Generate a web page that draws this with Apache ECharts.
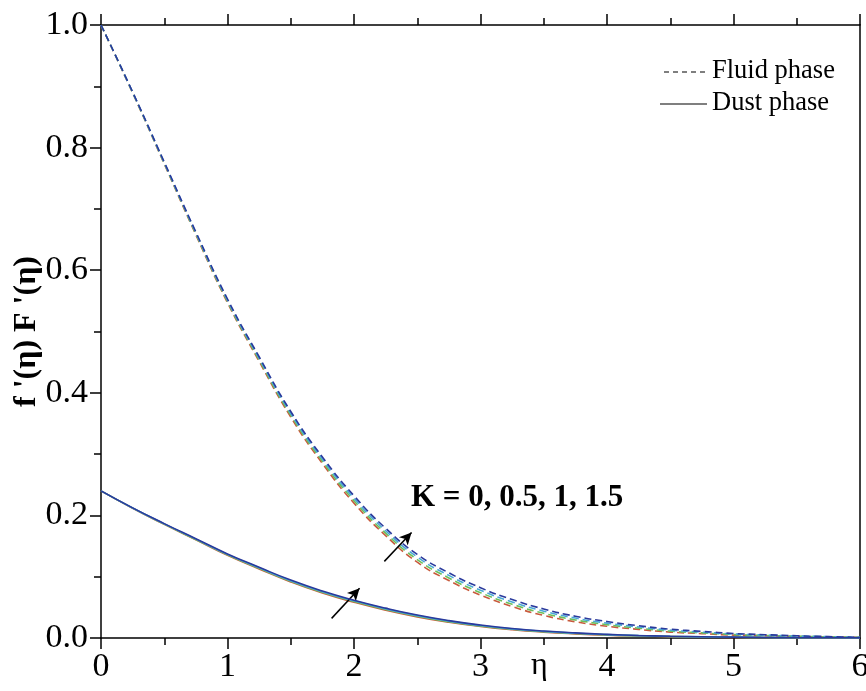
<!DOCTYPE html>
<html><head><meta charset="utf-8">
<script src="https://cdn.jsdelivr.net/npm/echarts@6/dist/echarts.min.js"></script>
<style>html,body{margin:0;padding:0;background:#fff}#c{width:866px;height:691px}</style>
</head><body><div id="c"></div>
<script>
const eta = [0,0.25,0.5,0.75,1,1.25,1.5,1.75,2,2.25,2.5,2.75,3,3.25,3.5,3.75,4,4.25,4.5,4.75,5,5.25,5.5,5.75,6];
const kLabels = ['K = 0','K = 0.5','K = 1','K = 1.5'];
const fluidK0   = [1.0,0.8893,0.7735,0.6578,0.547,0.4513,0.3605,0.2848,0.220,0.167,0.1237,0.0937,0.070,0.0513,0.0368,0.0265,0.0191,0.014,0.0096,0.0072,0.0047,0.0036,0.0024,0.0017,0.001];
const fluidK05  = [1.0,0.8898,0.7745,0.6593,0.549,0.4538,0.3635,0.2883,0.224,0.171,0.1279,0.0979,0.074,0.0551,0.0403,0.0295,0.0217,0.016,0.0112,0.0084,0.0056,0.0042,0.0028,0.0019,0.001];
const fluidK1   = [1.0,0.8903,0.7755,0.6608,0.551,0.4563,0.3665,0.2918,0.228,0.175,0.1321,0.1021,0.078,0.0589,0.0438,0.0325,0.0243,0.018,0.0128,0.0096,0.0065,0.0048,0.0032,0.0021,0.001];
const fluidK15  = [1.0,0.8908,0.7765,0.6623,0.553,0.4588,0.3695,0.2953,0.232,0.179,0.1363,0.1063,0.082,0.0627,0.0473,0.0355,0.0269,0.020,0.0144,0.0108,0.0074,0.0054,0.0036,0.0023,0.001];
const dustK0    = [0.24,0.2117,0.1854,0.1601,0.1348,0.1127,0.0915,0.0734,0.0584,0.0454,0.0345,0.0257,0.0188,0.0135,0.0096,0.0068,0.0047,0.0033,0.0023,0.0015,0.0011,0.0007,0.0005,0.0003,0.0002];
const dustK05   = [0.24,0.2119,0.1858,0.1607,0.1356,0.1136,0.0925,0.0745,0.0595,0.0465,0.0355,0.0266,0.0196,0.0142,0.0102,0.0073,0.0051,0.0036,0.0025,0.0017,0.0012,0.0008,0.0005,0.0003,0.0002];
const dustK1    = [0.24,0.2121,0.1862,0.1613,0.1364,0.1145,0.0935,0.0756,0.0606,0.0476,0.0365,0.0275,0.0204,0.0149,0.0108,0.0078,0.0055,0.0039,0.0027,0.0019,0.0013,0.0009,0.0005,0.0003,0.0002];
const dustK15   = [0.24,0.2123,0.1866,0.1619,0.1372,0.1154,0.0945,0.0767,0.0617,0.0487,0.0375,0.0284,0.0212,0.0156,0.0114,0.0083,0.0059,0.0041,0.0029,0.0021,0.0014,0.0009,0.0005,0.0003,0.0002];
const xTicks = [0,1,2,3,4,5,6];
const yTicks = [0.0,0.2,0.4,0.6,0.8,1.0];
const arrowFluid = [[2.24,0.125],[2.455,0.172]];
const arrowDust = [[1.823,0.032],[2.044,0.081]];
const annotText = 'K = 0, 0.5, 1, 1.5';
const annotPos = [2.45,0.226];

const colors = ['#c85a3c','#6cbf5c','#4aa6d6','#2a3a9c'];
const FONT = '"Liberation Serif","Times New Roman",serif';
const fluid = [fluidK0, fluidK05, fluidK1, fluidK15];
const dust = [dustK0, dustK05, dustK1, dustK15];
const pairs = arr => eta.map((e,i)=>[e, arr[i]]);

const series = [];
dust.forEach((d,i)=>series.push({
  name: 'Dust ' + kLabels[i], type:'line', data: pairs(d), smooth:true, showSymbol:false,
  lineStyle:{color:colors[i], width:1.6, type:'solid'}, z: 2+i
}));
fluid.forEach((d,i)=>series.push({
  name: 'Fluid ' + kLabels[i], type:'line', data: pairs(d), smooth:true, showSymbol:false,
  lineStyle:{color:colors[i], width:1.6, type:[7,4]}, z: 2+i
}));
series.push({
  type:'line', data:[], silent:true,
  markLine:{
    silent:true, symbol:['none','arrow'], symbolSize:[9,12], animation:false,
    label:{show:false},
    lineStyle:{color:'#000', width:1.5, type:'solid'},
    data:[
      [{coord:arrowFluid[0]},{coord:arrowFluid[1]}],
      [{coord:arrowDust[0]},{coord:arrowDust[1]}]
    ]
  }
});

const axisCommon = {
  type:'value', min:0,
  axisLine:{show:true, onZero:false, lineStyle:{color:'#000', width:1.5}},
  axisTick:{show:true, inside:false, length:11, lineStyle:{color:'#000', width:1.5}},
  minorTick:{show:true, splitNumber:2, length:7, lineStyle:{color:'#000', width:1.5}},
  splitLine:{show:false}
};
const chart = echarts.init(document.getElementById('c'), null, {renderer:'canvas'});
chart.setOption({
  animation:false,
  backgroundColor:'#fff',
  grid:{left:101, right:6, top:25, bottom:53, containLabel:false, outerBoundsMode:'none'},
  xAxis:[
    Object.assign({}, axisCommon, {max:6, interval:1, position:'bottom',
      axisLabel:{fontFamily:FONT, fontSize:34, color:'#000', margin:12, formatter: v=> xTicks.includes(v)? String(v):''}}),
    Object.assign({}, axisCommon, {max:6, interval:1, position:'top',
      axisLabel:{show:false}})
  ],
  yAxis:[
    Object.assign({}, axisCommon, {max:1, interval:0.2, position:'left',
      name:"f '(η) F '(η)", nameLocation:'middle', nameGap:58, nameRotate:90, nameMoveOverlap:false,
      nameTextStyle:{fontFamily:FONT, fontSize:32, fontWeight:'bold', color:'#000'},
      axisLabel:{fontFamily:FONT, fontSize:34, color:'#000', margin:13, formatter: v=> v.toFixed(1)}}),
    Object.assign({}, axisCommon, {max:1, interval:0.2, position:'right',
      axisTick:{show:false}, minorTick:{show:false}, axisLabel:{show:false}})
  ],
  series: series
});

const kp = chart.convertToPixel({xAxisIndex:0, yAxisIndex:0}, annotPos);
chart.setOption({
  graphic:[
    {type:'text', left:kp[0], top:kp[1]-17, style:{text:annotText, fontFamily:FONT, fontSize:31, fontWeight:'bold', fill:'#000'}},
    {type:'text', left:531, top:650, style:{text:'η', fontFamily:FONT, fontSize:32, fill:'#000'}},
    {type:'line', shape:{x1:664, y1:72, x2:707, y2:72}, style:{stroke:'#000', lineWidth:1.2, lineDash:[5,4]}},
    {type:'text', left:712, top:58, style:{text:'Fluid phase', fontFamily:FONT, fontSize:26.5, fill:'#000'}},
    {type:'line', shape:{x1:660, y1:104, x2:707, y2:104}, style:{stroke:'#000', lineWidth:1.2}},
    {type:'text', left:712, top:90, style:{text:'Dust phase', fontFamily:FONT, fontSize:26.5, fill:'#000'}}
  ]
});
</script>
</body></html>
